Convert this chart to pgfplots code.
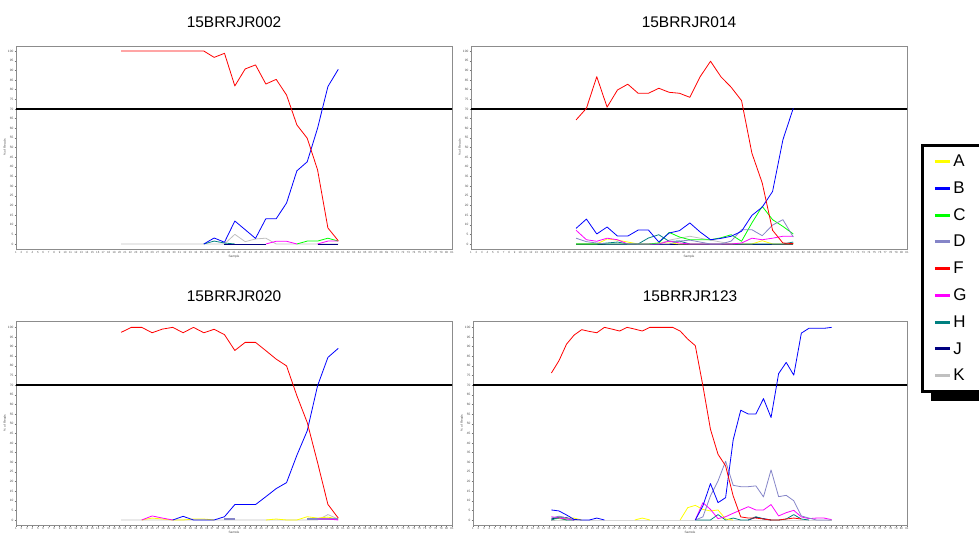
\documentclass[border=0pt]{standalone}
\usepackage{pgfplots}
\pgfplotsset{compat=1.18}
\usepackage{pgfplotstable}
\usepackage{fontspec}
\setmainfont{Liberation Sans}
\usetikzlibrary{shadows}

\definecolor{cA}{HTML}{FFFF00}
\definecolor{cB}{HTML}{0000FF}
\definecolor{cC}{HTML}{00FF00}
\definecolor{cD}{HTML}{8585C8}
\definecolor{cF}{HTML}{FF0000}
\definecolor{cG}{HTML}{FF00FF}
\definecolor{cH}{HTML}{008080}
\definecolor{cJ}{HTML}{000080}
\definecolor{cK}{HTML}{C0C0C0}

% 15BRRJR002
\pgfplotstableread{
x  A   B    C   D   F    G   H   J   K
10 nan nan  nan nan 100  nan nan nan 0
11 nan nan  nan nan 100  nan nan nan 0
12 nan nan  nan nan 100  nan nan nan 0
13 nan nan  nan nan 100  nan nan nan 0
14 nan nan  nan nan 100  nan nan nan 0
15 nan nan  nan nan 100  nan nan nan 0
16 nan nan  nan nan 100  nan nan nan 0
17 nan nan  nan nan 100  nan nan nan 0
18 nan 0    nan nan 100  nan 0   nan 0
19 nan 3.1  nan nan 96.7 nan 1.5 nan 0
20 nan 0.9  nan nan 98.8 nan 0.5 0   0
21 nan 11.9 nan nan 81.9 nan 0   0   5
22 nan 7.4  nan nan 90.7 nan nan 0   1.2
23 nan 2.9  nan nan 92.8 nan nan 0   2.6
24 nan 13.1 nan nan 82.9 0   nan 0   3
25 nan 13.1 nan nan 85.3 1.4 nan nan 0
26 nan 21.2 nan nan 77.2 1.4 nan nan 0
27 nan 37.9 0   nan 61.7 0   nan nan 0
28 nan 42.6 1.5 nan 54.8 nan nan nan 0
29 nan 60   1.5 nan 38.4 0   nan 0   0
30 nan 81.6 3   nan 8.3  1.5 nan 0   0
31 nan 90.5 1.5 nan 1.7  1.5 nan 0   0
}\runA

% 15BRRJR014
\pgfplotstableread{
x  A   B    C    D    F    G   H   J K
10 0   8.1  0    3    64.3 7.1 0   0 0
11 0   12.9 0    1.2  70.3 2.2 0   0 0
12 0   5.2  0    0.5  86.7 1.4 0   0 0
13 2.6 8.8  0    0    70.9 3   0.5 0 0
14 2   4.1  0    0    79.8 2.2 1   0 0
15 1   4.1  0    0    82.8 0   0   0 0
16 0   7.2  0    0    78.1 0   0   0 0
17 0   7.2  0    0    78.1 0   3.1 0 0
18 0.5 1    0.5  0    80.7 0   4.8 0 0
19 0.5 5.7  6    0    78.6 1.5 1.4 0 2
20 0   6.9  3.6  1.5  78.1 0.5 1.5 0 3
21 0   10.9 2.2  2    76   0   0   0 4
22 0   6.2  2.2  1    86.7 0   0   0 3
23 0   2.2  2.2  0    94.7 0   0   0 2
24 0   2.9  3.2  0    86.7 0   0   0 1
25 0   4    4.8  1.5  81.2 0   0   0 0
26 0   6.6  1.4  7.4  74.3 0.5 0   0 0
27 0   14.8 10.9 7.4  47.1 3   0   0 0
28 1.7 19.1 19.5 4.3  31.6 2.2 0   0 0
29 0   27.2 12.6 9.8  7.1  3   0   0 0
30 0   54   9.1  12.6 0.5  4   0   0 0
31 0   70.3 5.2  3.6  0.2  4   1   0 0
}\runB

% 15BRRJR020
\pgfplotstableread{
x  A   B    C   D   F    G   H   J   K
10 nan nan  nan nan 97.4 nan nan nan 0
11 nan nan  nan nan 100  nan nan nan 0
12 0   nan  nan nan 100  0   nan nan 0
13 1   nan  nan nan 97.2 2.1 nan nan 0
14 0.5 nan  nan nan 99.1 1   nan nan 0
15 0   0    nan nan 100  0   nan nan 0
16 0   1.9  nan nan 97.2 nan nan nan 0
17 0.5 0    nan nan 100  nan nan nan 0
18 0.5 0    nan nan 97.2 nan nan nan 0
19 0   0    nan nan 99   nan nan nan 0
20 nan 1.7  nan 0.5 96.2 nan nan nan 0
21 nan 8    nan 0.5 88   nan nan nan 0
22 nan 8    nan nan 92.2 nan nan nan 0
23 nan 8    nan nan 92.2 nan nan nan 0
24 0   12.1 nan nan 87.9 nan nan nan 0
25 0.5 16.3 nan nan 83.5 nan nan nan 0
26 0   19.4 nan nan 80   nan nan nan 0
27 0   33.6 nan nan 64.5 nan nan nan 0
28 1.7 46.3 nan 0.5 50.6 nan nan nan 0
29 1   69.7 nan 0.5 29.8 0.5 nan nan 0
30 1.5 84.4 nan 0.5 8.1  0.5 nan nan 2.8
31 0.5 89.1 nan 0.5 1    0   nan nan 0.5
}\runC

% 15BRRJR123
\pgfplotstableread{
x  A   B    C   D    F    G   H   J   K
0  nan 5.2  0.5 1    76.3 1.7 0   0.5 0
1  1   4.7  0.8 2    82.7 1   1.4 1.6 0
2  0.8 2.6  0   1    91.3 0.5 0   1.2 0
3  1   0.3  nan 0    96   0   0   0   0
4  0   0    nan nan  98.8 nan nan nan 0
5  nan 0    nan nan  97.9 nan nan nan 0
6  nan 1    nan nan  97.2 nan nan nan 0
7  nan 0    nan nan  100  nan nan nan 0
8  nan nan  nan nan  99.1 nan nan nan 0
9  nan nan  nan nan  98.1 nan nan nan 0
10 nan nan  nan nan  100  nan nan nan 0
11 0   nan  nan nan  99.1 nan nan nan 0
12 1   nan  nan nan  98.1 nan nan nan 0
13 0   nan  nan nan  100  nan nan nan 0
14 nan nan  nan nan  100  nan nan nan 0
15 nan nan  nan nan  100  nan nan nan 0
16 nan nan  nan nan  100  nan nan nan 0
17 0   nan  nan nan  98.1 nan nan nan 0
18 6.4 nan  nan nan  93.9 nan nan nan 0
19 7.6 0    nan 0    90.5 0   0   nan 0
20 5.5 7.3  nan 1.6  69.7 9   0   nan 0
21 4.7 18.9 nan 12.5 47.1 5.5 0   nan 0
22 5.2 9    nan 20.3 34.1 0.7 2.8 nan 0
23 0.5 11.6 nan 30.5 28.1 1.7 0   nan 0
24 0   41.6 nan 18   12.5 3.5 1   nan 0
25 nan 57   nan 17.3 1.6  5.2 0   nan 0
26 nan 55   nan 17.3 1    6.9 0   0   0
27 nan 55   nan 17.7 1    5.2 1.7 1.4 0
28 nan 63   nan 12   0.5  5.2 0.5 0.7 0
29 nan 53.2 nan 26   0    8   0   0   0
30 nan 76   nan 12.1 0    2.1 0   nan 0
31 nan 81.8 nan 12.8 0.5  3.8 0.5 nan 0
32 nan 75.2 nan 10   1    5   2.8 nan 0
33 nan 97   nan 2.1  0.5  1.6 0.5 nan 0
34 nan 99.5 nan 1    nan  0.7 0   nan 0
35 nan 99.5 nan 0    nan  1   nan nan 0
36 nan 99.5 nan 0    nan  1   nan nan 0
37 nan 100  nan 0    nan  0.2 nan nan 0
}\runD

\pgfplotsset{
  panel/.style={
    scale only axis, width=436bp, height=203bp,
    anchor=south west,
    axis line style={draw=black!45, line width=0.7bp},
    ymin=-2.6, ymax=102.6, ytick={0,5,...,100},
    tick pos=left,
    tick style={draw=black!55, line width=0.3bp},
    major tick length=1.5bp, tick align=outside,
    /pgf/number format/assume math mode=true,
    yticklabel style={font=\fontsize{3.2}{3.5}\selectfont, text=black!70, inner sep=1pt},
    xticklabel style={font=\fontsize{2.8}{3}\selectfont, text=black!70, inner sep=0.8pt},
    xticklabel={\pgfmathparse{int(\ticknum+1)}\pgfmathresult},
    xlabel={Sample}, ylabel={\% of Reads},
    xlabel style={font=\fontsize{3.2}{3.5}\selectfont, text=black!70, inner sep=0.5pt},
    ylabel style={font=\fontsize{3.2}{3.5}\selectfont, text=black!70, inner sep=1pt},
    unbounded coords=jump,
    every axis title shift=0pt,
    title style={font=\fontsize{15.5}{18}\selectfont, anchor=center},
    every axis plot/.append style={line width=0.8bp, line join=round},
  },
  wide/.style={xmin=-0.16, xmax=42.0, xtick={-0.16,0.367,...,42.0}},
}

\newcommand{\threshold}{\addplot[black, line width=1.8bp, forget plot] coordinates {(-20,70) (70,70)};}

\begin{document}
\begin{tikzpicture}
% the page is exactly the figure; the legend box runs off its right edge
\path[use as bounding box, clip] (0,0) rectangle (979bp,533bp);

% top left
\begin{axis}[panel, wide, at={(16bp,284bp)},
  title={15BRRJR002}, title style={at={(0.5,1.118)}}]
\threshold
\addplot[cK] table[x=x,y=K]{\runA};
\addplot[cC] table[x=x,y=C]{\runA};
\addplot[cG] table[x=x,y=G]{\runA};
\addplot[cH] table[x=x,y=H]{\runA};
\addplot[cJ] table[x=x,y=J]{\runA};
\addplot[cB] table[x=x,y=B]{\runA};
\addplot[cF] table[x=x,y=F]{\runA};
\end{axis}

% top right, carries the legend
\begin{axis}[panel, wide, at={(471bp,284bp)},
  title={15BRRJR014}, title style={at={(0.5,1.118)}},
  legend image code/.code={%
    \begin{scope}[#1]
      \pgfsetlinewidth{3bp}%
      \pgfpathmoveto{\pgfpoint{0bp}{0bp}}%
      \pgfpathlineto{\pgfpoint{15bp}{0bp}}%
      \pgfusepath{stroke}%
    \end{scope}},
  legend cell align=left,
  legend style={at={(1.032,0.517)}, anchor=north west,
    draw=black, line width=2.7bp, fill=white,
    drop shadow={shadow xshift=9bp, shadow yshift=-9bp, fill=black, opacity=1},
    font=\fontsize{17}{20}\selectfont,
    inner xsep=11bp, inner ysep=7.5bp, row sep=9.6bp,
    /tikz/every even column/.append style={column sep=4bp, text width=38bp}},
  ]
\addlegendimage{cA}
\addlegendimage{cB}
\addlegendimage{cC}
\addlegendimage{cD}
\addlegendimage{cF}
\addlegendimage{cG}
\addlegendimage{cH}
\addlegendimage{cJ}
\addlegendimage{cK}
\threshold
\addplot[cK, forget plot] table[x=x,y=K]{\runB};
\addplot[cJ, forget plot] table[x=x,y=J]{\runB};
\addplot[cA, forget plot] table[x=x,y=A]{\runB};
\addplot[cH, forget plot] table[x=x,y=H]{\runB};
\addplot[cG, forget plot] table[x=x,y=G]{\runB};
\addplot[cC, forget plot] table[x=x,y=C]{\runB};
\addplot[cD, forget plot] table[x=x,y=D]{\runB};
\addplot[cB, forget plot] table[x=x,y=B]{\runB};
\addplot[cF, forget plot] table[x=x,y=F]{\runB};
\legend{A,B,C,D,F,G,H,J,K}
\end{axis}

% bottom left
\begin{axis}[panel, wide, at={(16bp,8bp)}, height=204bp,
  ymax=103.3,
  title={15BRRJR020}, title style={at={(0.5,1.12)}}]
\threshold
\addplot[cK] table[x=x,y=K]{\runC};
\addplot[cA] table[x=x,y=A]{\runC};
\addplot[cD, line width=1.4bp] table[x=x,y=D]{\runC};
\addplot[cG] table[x=x,y=G]{\runC};
\addplot[cB] table[x=x,y=B]{\runC};
\addplot[cF] table[x=x,y=F]{\runC};
\end{axis}

% bottom right
\begin{axis}[panel, at={(473bp,8bp)}, width=434bp, height=204bp,
  ymax=103.3,
  xmin=-10.35, xmax=46.95, xtick={-10.35,-9.634,...,46.95},
  title={15BRRJR123}, title style={at={(0.5,1.12)}}]
\threshold
\addplot[cK] table[x=x,y=K]{\runD};
\addplot[cC] table[x=x,y=C]{\runD};
\addplot[cJ] table[x=x,y=J]{\runD};
\addplot[cH] table[x=x,y=H]{\runD};
\addplot[cA] table[x=x,y=A]{\runD};
\addplot[cG] table[x=x,y=G]{\runD};
\addplot[cD] table[x=x,y=D]{\runD};
\addplot[cB] table[x=x,y=B]{\runD};
\addplot[cF] table[x=x,y=F]{\runD};
\end{axis}
\end{tikzpicture}
\end{document}
